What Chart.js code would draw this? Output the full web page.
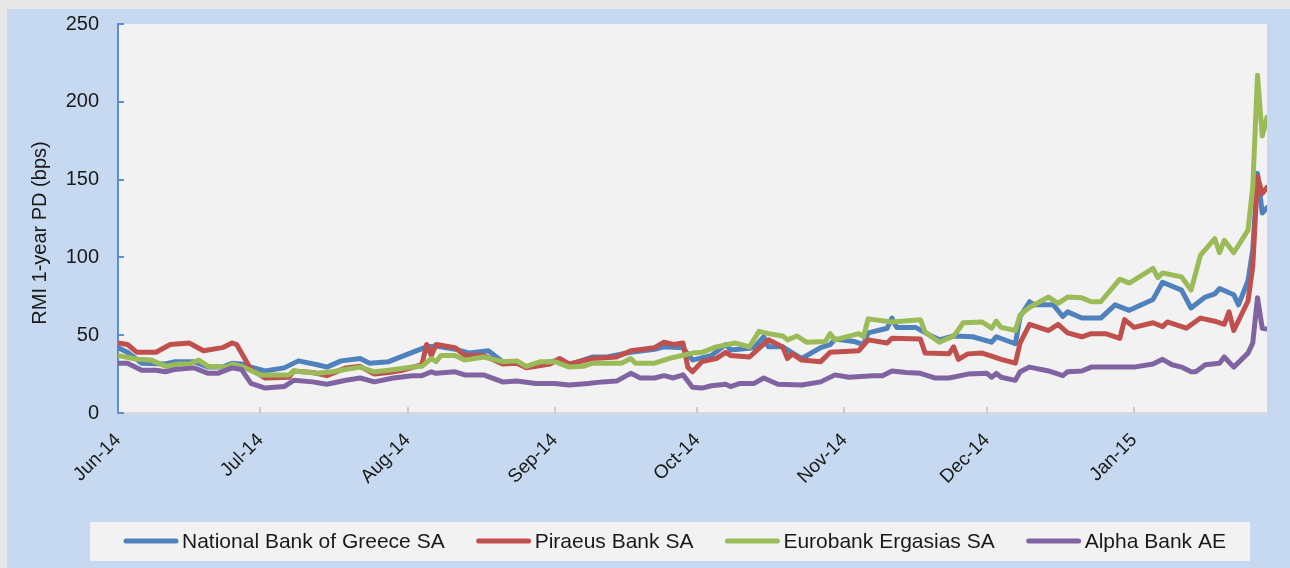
<!DOCTYPE html>
<html>
<head>
<meta charset="utf-8">
<title>RMI 1-year PD - Greek banks</title>
<script src="https://cdn.jsdelivr.net/npm/chart.js@4.4.1/dist/chart.umd.min.js"></script>
<style>
  html, body { margin: 0; padding: 0; background: #e8e8e8; }
  canvas { display: block; }
</style>
</head>
<body>
<canvas id="pdChart" width="1290" height="568"></canvas>
<script>
// days counted from 1 Jun 2014
var monthDays = [0, 30, 61, 92, 122, 153, 183, 214];
var monthLabels = ['Jun-14', 'Jul-14', 'Aug-14', 'Sep-14', 'Oct-14', 'Nov-14', 'Dec-14', 'Jan-15'];
var yTicks = [0, 50, 100, 150, 200, 250];
var yTitle = 'RMI 1-year PD (bps)';
var seriesNames = ['National Bank of Greece SA', 'Piraeus Bank SA', 'Eurobank Ergasias SA', 'Alpha Bank AE'];

var nbgDays = [0, 2, 5, 10, 12, 16, 19, 22, 24, 26, 28, 31, 35, 38, 42, 44, 47, 51, 53, 57, 62, 65, 67, 71, 74, 78, 81, 84, 86, 89, 92, 95, 100, 103, 108, 113, 115, 119, 121, 125, 128, 129, 134, 136, 137, 140, 144, 148, 150, 151, 155, 157, 158, 162, 163, 164, 168, 171, 173, 176, 180, 184, 185, 189, 190, 192, 193, 197, 199, 200, 203, 207, 210, 213, 218, 220, 224, 226, 229, 231, 232, 235, 236, 238, 239, 240, 241, 242];
var nbgBps = [42, 39, 32, 31.5, 33, 33, 29.5, 29.5, 32, 31.5, 29.5, 27, 29, 33.5, 31, 29.5, 33.5, 35, 32, 33, 39, 42.5, 43, 41, 38.5, 40, 33, 33, 29.5, 31.5, 33.5, 31, 36, 36, 39, 41, 42.5, 42, 34, 37, 44, 40.5, 42, 49, 42.5, 42.5, 35, 42, 44, 47.5, 46, 44, 51.5, 54.5, 61, 55, 55, 50, 47, 49.5, 49, 45.5, 49, 44.5, 62, 71.5, 69.5, 69.5, 62, 65, 61, 61, 69.5, 66, 73, 84, 79, 67.5, 74.5, 76.5, 80, 76, 69.5, 85, 105, 154, 128.5, 132];

var pirDays = [0, 2, 4, 8, 11, 15, 18, 22, 24, 25, 28, 31, 36, 37, 41, 44, 48, 51, 54, 57, 60, 64, 65, 66, 67, 71, 73, 77, 81, 84, 86, 91, 93, 95, 100, 105, 108, 113, 115, 117, 119, 120, 121, 123, 126, 128, 129, 133, 137, 140, 141, 142, 144, 148, 150, 156, 158, 162, 163, 169, 170, 175, 176, 177, 179, 182, 184, 186, 189, 190, 192, 196, 198, 200, 203, 205, 208, 211, 212, 214, 218, 220, 221, 225, 228, 231, 233, 234, 235, 238, 239, 240, 241, 242];
var pirBps = [45, 44, 39, 39, 44, 45, 40, 42, 45, 44, 28, 22.5, 23, 27, 26, 24, 29, 30, 25, 26, 27.5, 31, 44, 37, 44, 42, 37, 37, 31.5, 32, 29, 31.5, 35, 31.5, 35, 36, 40, 42, 45.5, 44, 45, 29.5, 26.5, 33, 35, 39, 37, 36, 47, 42.5, 35, 38, 34, 33, 39, 40, 47, 45, 48, 47.5, 38.5, 38, 42.5, 34.5, 38, 38.5, 36.5, 34.5, 32, 45, 57, 53, 57, 51.5, 49, 51, 51, 48, 60, 55, 58, 55.5, 58.5, 54.5, 61, 59, 57, 65, 53, 72, 94, 152, 141, 145];

var eurDays = [0, 4, 7, 10, 13, 15, 17, 19, 23, 24, 26, 30, 36, 37, 42, 45, 51, 54, 57, 62, 64, 66, 67, 68, 71, 73, 77, 81, 84, 86, 89, 92, 95, 98, 100, 106, 108, 109, 113, 116, 121, 123, 126, 130, 133, 135, 137, 140, 141, 143, 145, 149, 150, 151, 156, 157, 158, 163, 169, 170, 173, 176, 177, 178, 182, 184, 185, 186, 189, 190, 192, 196, 198, 200, 203, 205, 207, 211, 213, 218, 219, 220, 224, 226, 228, 231, 232, 233, 235, 238, 239, 240, 241, 242];
var eurBps = [37, 34.5, 34, 30, 31.5, 31.5, 34, 30, 29.5, 31.5, 30, 24.5, 24.5, 27, 25.5, 26.5, 29.5, 26.5, 27.5, 29.5, 30, 35, 33, 37, 37, 34, 36, 33, 33.5, 30, 33, 33, 29.5, 30, 32, 32, 35, 32, 32, 35, 38.5, 39, 42.5, 45, 42.5, 52.5, 51, 49.5, 47, 49.5, 45.5, 46, 51, 47, 51, 49, 60.5, 58.5, 60, 52, 45.5, 49.5, 53.5, 58, 58.5, 54.5, 59, 55, 53, 63, 68, 74.5, 70.5, 74.5, 74, 71.5, 71.5, 86, 83.5, 93, 87, 90, 87.5, 79, 101.5, 112, 103, 111, 103, 117.5, 145, 217, 178, 190];

var alpDays = [0, 2, 5, 8, 10, 12, 16, 19, 21, 24, 26, 28, 31, 35, 37, 41, 44, 48, 51, 54, 58, 62, 64, 66, 67, 71, 73, 77, 81, 84, 88, 92, 95, 99, 102, 105, 108, 110, 113, 115, 117, 119, 121, 123, 125, 128, 129, 131, 134, 136, 139, 144, 148, 151, 154, 159, 161, 163, 166, 169, 172, 175, 179, 183, 184, 185, 186, 189, 190, 192, 196, 199, 200, 203, 205, 214, 218, 220, 222, 224, 226, 227, 229, 232, 233, 235, 238, 239, 240, 241, 242];
var alpBps = [32, 32, 27.5, 27.5, 26.5, 28, 29, 25.5, 25.5, 29, 28, 19, 16, 17, 21, 20, 18.5, 21, 22.5, 20, 22.5, 24, 24, 26.5, 25.5, 26.5, 24.5, 24.5, 20, 20.5, 19, 19, 18, 19, 20, 20.5, 25.5, 22.5, 22.5, 24, 22.5, 24.5, 16.5, 16, 17.5, 18.5, 17, 19, 19, 22.5, 18.5, 18, 20, 24.5, 23, 24, 24, 27, 26, 25.5, 22.5, 22.5, 25, 25.5, 23, 25.5, 23, 21, 26.5, 29.5, 27, 24, 26.5, 27, 29.5, 29.5, 31.5, 34.5, 31, 29.5, 26.5, 26.5, 31, 32, 36, 29.5, 38.5, 45, 74, 54.5, 54];

var lineColors = ['#4f81bd', '#c0504d', '#9bbb59', '#8064a2'];
var fontFamily = '"Liberation Sans", Arial, Helvetica, sans-serif';

function toPoints(days, values) {
    var pts = [];
    for (var i = 0; i < days.length; i++) {
        pts.push({ x: days[i], y: values[i] });
    }
    return pts;
}

function makeDataset(i, days, values) {
    return {
        label: seriesNames[i],
        data: toPoints(days, values),
        borderColor: lineColors[i],
        backgroundColor: lineColors[i],
        borderWidth: 5,
        borderJoinStyle: 'round',
        borderCapStyle: 'round',
        pointRadius: 0,
        tension: 0,
        order: 3 - i   // last series on top, like the original
    };
}

// background panels, inward tick marks, axis title and boxed legend
var decorPlugin = {
    id: 'decor',
    beforeDraw: function (chart) {
        var ctx = chart.ctx, a = chart.chartArea;
        ctx.save();
        ctx.fillStyle = '#e8e8e8';
        ctx.fillRect(0, 0, chart.width, chart.height);
        ctx.fillStyle = '#c6d9f0';
        ctx.fillRect(7, 9, chart.width - 7, chart.height - 9);
        ctx.fillStyle = '#f2f2f2';
        ctx.fillRect(a.left, a.top, a.right - a.left, a.bottom - a.top);
        ctx.restore();
    },
    beforeDatasetsDraw: function (chart) {
        var ctx = chart.ctx, a = chart.chartArea;
        var xs = chart.scales.x, ys = chart.scales.y;
        ctx.save();
        ctx.lineWidth = 2;
        ctx.strokeStyle = '#5b8fcf';
        yTicks.forEach(function (v) {
            var y = Math.round(ys.getPixelForValue(v));
            ctx.beginPath();
            ctx.moveTo(a.left, y);
            ctx.lineTo(a.left + 6, y);
            ctx.stroke();
        });
        ctx.lineWidth = 1.5;
        ctx.strokeStyle = '#bfbfbf';
        monthDays.slice(1).forEach(function (d) {
            var x = Math.round(xs.getPixelForValue(d));
            ctx.beginPath();
            ctx.moveTo(x, a.bottom - 6);
            ctx.lineTo(x, a.bottom);
            ctx.stroke();
        });
        ctx.restore();
    },
    afterDraw: function (chart) {
        var ctx = chart.ctx;
        ctx.save();
        // y axis title
        ctx.fillStyle = '#1a1a1a';
        ctx.font = '20px ' + fontFamily;
        ctx.translate(46, 233);
        ctx.rotate(-Math.PI / 2);
        ctx.textAlign = 'center';
        ctx.textBaseline = 'alphabetic';
        ctx.fillText(yTitle, 0, 0);
        ctx.restore();

        // legend
        ctx.save();
        ctx.fillStyle = '#f2f2f2';
        ctx.fillRect(90, 522, 1160, 39);
        ctx.font = '21px ' + fontFamily;
        ctx.textBaseline = 'middle';
        ctx.textAlign = 'left';
        ctx.lineCap = 'round';
        ctx.lineWidth = 5;
        var x = 124, y = 541;
        chart.data.datasets.forEach(function (ds) {
            ctx.strokeStyle = ds.borderColor;
            ctx.beginPath();
            ctx.moveTo(x + 2, y);
            ctx.lineTo(x + 52, y);
            ctx.stroke();
            ctx.fillStyle = '#1a1a1a';
            ctx.fillText(ds.label, x + 58, y + 1);
            x = x + 58 + ctx.measureText(ds.label).width + 32;
        });
        ctx.restore();
    }
};

var ctxPd = document.getElementById('pdChart').getContext('2d');
var pdChart = new Chart(ctxPd, {
    type: 'line',
    data: {
        datasets: [
            makeDataset(0, nbgDays, nbgBps),
            makeDataset(1, pirDays, pirBps),
            makeDataset(2, eurDays, eurBps),
            makeDataset(3, alpDays, alpBps)
        ]
    },
    options: {
        responsive: false,
        animation: false,
        layout: { padding: { top: 24, right: 23, bottom: 0, left: 0 } },
        plugins: {
            legend: { display: false },
            tooltip: { enabled: false }
        },
        scales: {
            x: {
                type: 'linear',
                min: 0,
                max: 242,
                afterBuildTicks: function (scale) {
                    scale.ticks = monthDays.map(function (d) { return { value: d }; });
                },
                afterFit: function (scale) { scale.height = 155; },
                ticks: {
                    autoSkip: false,
                    minRotation: 45,
                    maxRotation: 45,
                    padding: 16,
                    color: '#1a1a1a',
                    font: { family: fontFamily, size: 19 },
                    callback: function (value) {
                        return monthLabels[monthDays.indexOf(value)];
                    }
                },
                grid: { display: false, drawTicks: false },
                border: { display: true, color: '#d9d9d9', width: 2 }
            },
            y: {
                min: 0,
                max: 250,
                afterFit: function (scale) {
                    scale.width = 118;
                    // label padding otherwise pushes the plot top down
                    scale.paddingTop = 0;
                    scale.paddingBottom = 0;
                },
                ticks: {
                    stepSize: 50,
                    padding: 19,
                    color: '#1a1a1a',
                    font: { family: fontFamily, size: 20 }
                },
                grid: { display: false, drawTicks: false },
                border: { display: true, color: '#5b8fcf', width: 2 }
            }
        }
    },
    plugins: [decorPlugin]
});
</script>
</body>
</html>
